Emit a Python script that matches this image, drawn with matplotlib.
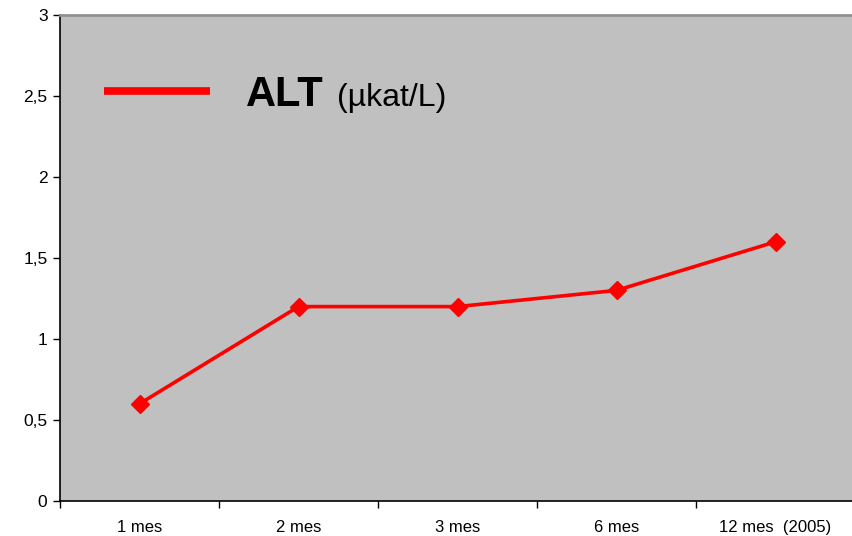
import matplotlib
matplotlib.use("Agg")
import matplotlib.pyplot as plt
import numpy as np

categories = ["1 mes", "2 mes", "3 mes", "6 mes", "12 mes  (2005)"]
alt_values = [0.6, 1.2, 1.2, 1.3, 1.6]
y_ticks = [0, 0.5, 1, 1.5, 2, 2.5, 3]
y_tick_labels = ["0", "0,5", "1", "1,5", "2", "2,5", "3"]

plt.rcParams["font.family"] = ["Liberation Sans", "DejaVu Sans"]

W, H = 852, 536
fig = plt.figure(figsize=(W / 100, H / 100), dpi=100)
ax = fig.add_axes([60 / W, 35 / H, 795 / W, 486 / H])
ax.set_facecolor("#c0c0c0")

x = np.arange(len(categories))
ax.plot(x, alt_values, color="#ff0000", lw=2.6, marker="D", markersize=9,
        markerfacecolor="#ff0000", markeredgecolor="#ff0000", zorder=3)

ax.set_xlim(-0.5, len(categories) - 0.5)
ax.set_ylim(0, 3)
ax.set_yticks(y_ticks)
ax.set_yticklabels(y_tick_labels, fontsize=12.5)
ax.set_xticks(x)
ax.set_xticklabels(categories, fontsize=12)
ax.set_xticks(np.arange(len(categories) + 1) - 0.5, minor=True)
ax.tick_params(axis="x", which="major", length=0, pad=14)
ax.tick_params(axis="x", which="minor", length=5, width=1, direction="out")
ax.tick_params(axis="y", length=5, width=1, direction="out", pad=4)

for side in ("left", "bottom"):
    ax.spines[side].set_color("black")
    ax.spines[side].set_linewidth(1.2)
ax.spines["top"].set_color("#909090")
ax.spines["top"].set_linewidth(2)
ax.spines["right"].set_visible(False)

# legend key
ax.plot([0.0553, 0.1887], [0.8436, 0.8436], transform=ax.transAxes,
        color="#ff0000", lw=5.5, solid_capstyle="butt")
ax.text(0.234, 0.8128, "ALT", transform=ax.transAxes, fontsize=30,
        fontweight="bold", ha="left", va="baseline")
ax.text(0.3484, 0.8128, "(\u00b5kat/L)", transform=ax.transAxes, fontsize=23,
        ha="left", va="baseline")

fig.savefig("out.png", dpi=100)
